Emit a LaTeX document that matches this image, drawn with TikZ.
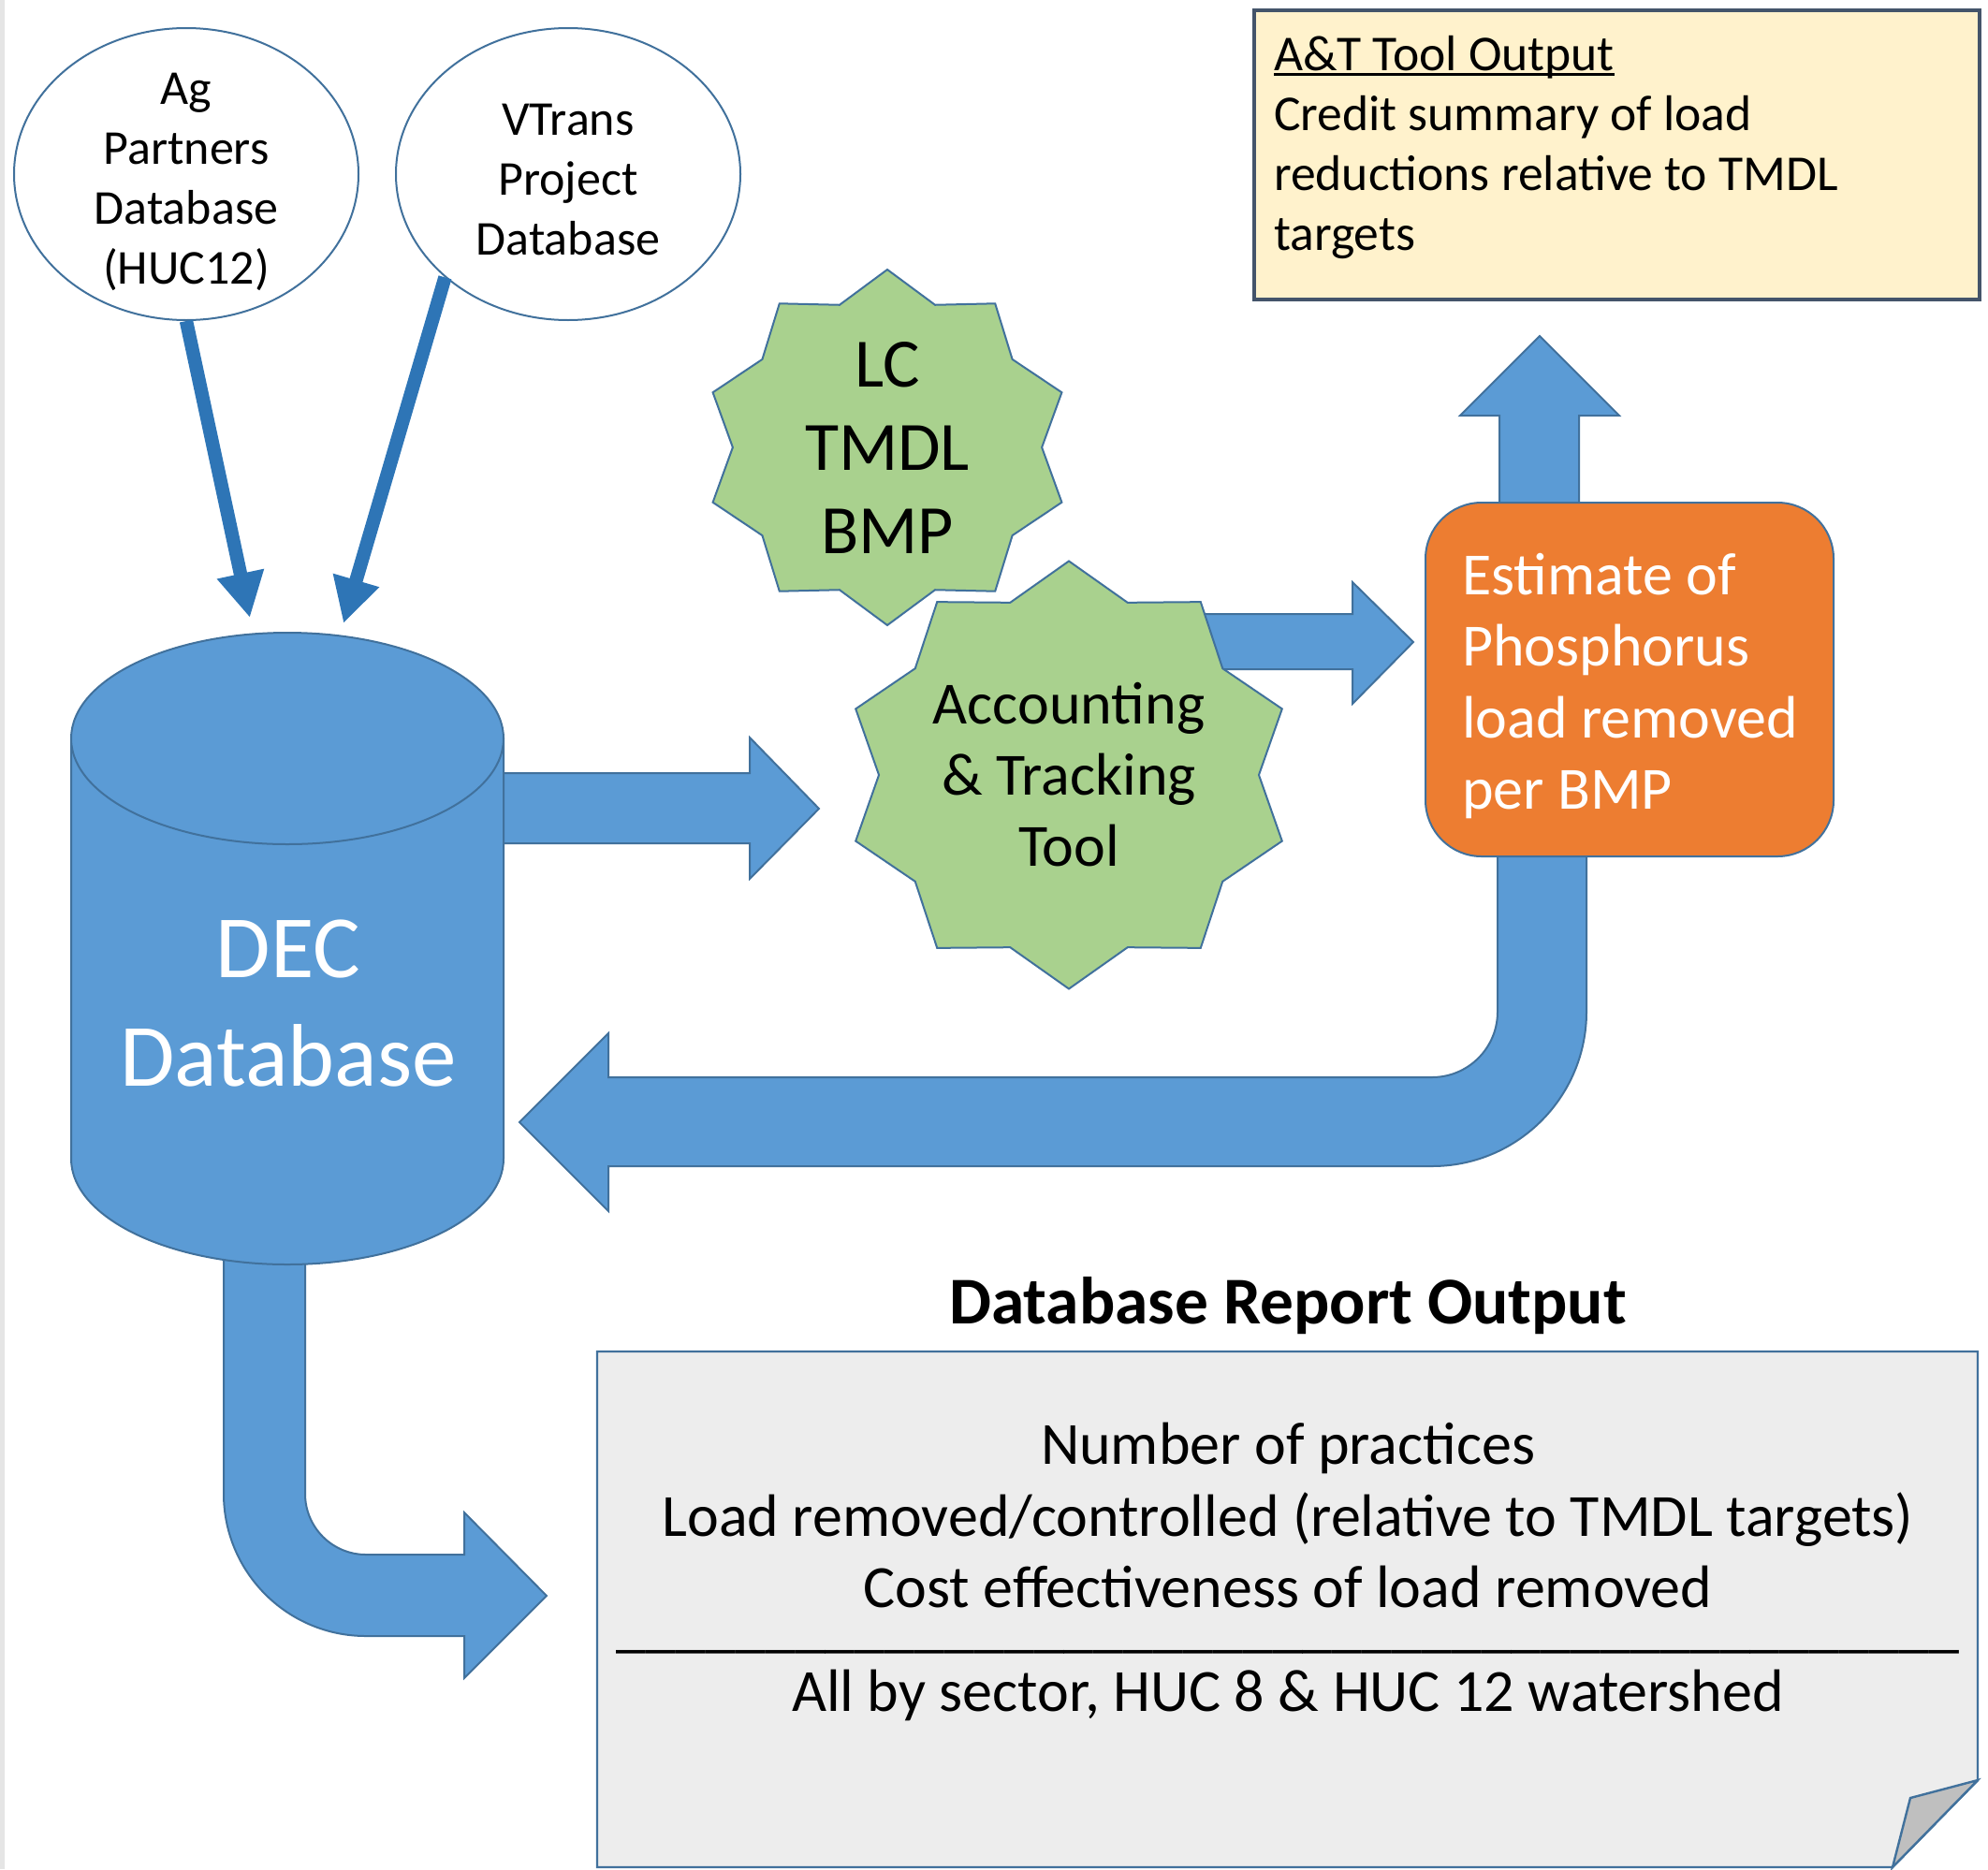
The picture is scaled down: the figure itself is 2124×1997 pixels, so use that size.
\documentclass[tikz,border=0pt]{standalone}
\usepackage{fontspec}
\setmainfont{Carlito}
\usepackage{tikz}
\usetikzlibrary{arrows.meta,shapes,positioning}
\definecolor{dbblue}{RGB}{91,155,213}
\definecolor{dbedge}{RGB}{65,113,156}
\definecolor{srcblue}{RGB}{46,117,182}
\definecolor{bmpgreen}{RGB}{169,209,142}
\definecolor{estorange}{RGB}{237,125,49}
\definecolor{outyellow}{RGB}{255,242,204}
\definecolor{outedge}{RGB}{68,84,106}
\definecolor{rptgray}{RGB}{237,237,237}
\definecolor{foldgray}{RGB}{191,191,191}
\newsavebox\headbox
\newcommand{\ulhead}[1]{\sbox\headbox{#1}\rlap{\rule[-3pt]{\wd\headbox}{1.4pt}}\usebox\headbox}
\tikzstyle{dbsource} = [ellipse, draw=dbedge, fill=white, line width=1pt, minimum width=184pt, minimum height=156pt]
\tikzstyle{srctext} = [align=center, font=\fontsize{26}{32}\selectfont]
\tikzstyle{bmpstar} = [draw=dbedge, fill=bmpgreen, line width=1pt, line join=miter]
\tikzstyle{blockarrow} = [fill=dbblue, draw=dbedge, line width=1pt]
\tikzstyle{srcarrow} = [line width=7.2pt, draw=srcblue, ->, >={Triangle[width=24pt,length=24pt]}]
\tikzstyle{bodytext} = [align=center, inner sep=0pt, font=\fontsize{32}{38.3}\selectfont]

\begin{document}
\begin{tikzpicture}[x=0.5pt, y=-0.5pt]
\useasboundingbox (0,0) rectangle (2124,1997);
\fill[gray!20] (0,0) rectangle (5,1997);
% Block arrows
\draw[blockarrow] (530,826) -- (801,826) -- (801,788) -- (875,864) -- (801,939) -- (801,901) -- (530,901) -- cycle;
\draw[blockarrow] (1200,656) -- (1445,656) -- (1445,622) -- (1510,686) -- (1445,752) -- (1445,715) -- (1200,715) -- cycle;
\draw[blockarrow] (1602,560) -- (1602,444) -- (1560,444) -- (1645,359) -- (1730,444) -- (1687,444) -- (1687,560) -- cycle;
\draw[blockarrow] (1600,900) -- (1600,1081) arc[start angle=0, end angle=90, radius=70] -- (650,1151) -- (650,1104) -- (555,1199) -- (650,1294) -- (650,1246) -- (1530,1246) arc[start angle=90, end angle=0, radius=165] -- (1695,900) -- cycle;
\draw[blockarrow] (239,1320) -- (239,1596) arc[start angle=180, end angle=90, radius=152] -- (496,1748) -- (496,1793) -- (584,1705) -- (496,1616) -- (496,1661) -- (391,1661) arc[start angle=90, end angle=180, radius=65] -- (326,1320) -- cycle;
% DEC database
\draw[blockarrow] (76,789) -- (76,1238) arc[start angle=180, end angle=0, x radius=231, y radius=113] -- (538,789) -- cycle;
\draw[blockarrow] (307,789) ellipse [x radius=231, y radius=113];
\node (dec) [align=center, text=white, font=\fontsize{47.5}{58}\selectfont] at (308,1072) {DEC\\Database};
% Sources
\node (ag) [dbsource] at (199,186) {};
\node [srctext] at (199,194) {Ag\\Partners\\Database\\(HUC12)};
\node (vt) [dbsource] at (607,186) {};
\node [srctext] at (607,192) {VTrans\\Project\\Database};
\coordinate (agtip) at (267,660);
\coordinate (vttip) at (367,666);
\draw[srcarrow] (ag.south) -- (agtip);
\draw[srcarrow] (vt.220) -- (vttip);
% Tool
\draw[bmpstar, shift={(948,478)}] (90:196 and 190) \foreach \i in {1,...,19} {-- ({90+18*\i}:{196/(1+0.187*mod(\i,2))} and {190/(1+0.187*mod(\i,2))})} -- cycle;
\node (lc) [align=center, font=\fontsize{37}{44.5}\selectfont] at (948,478) {LC\\TMDL\\BMP};
\draw[bmpstar, shift={(1142,828)}] (90:239.5 and 228.5) \foreach \i in {1,...,19} {-- ({90+18*\i}:{239.5/(1+0.18*mod(\i,2))} and {228.5/(1+0.18*mod(\i,2))})} -- cycle;
\node (acc) [align=center, font=\fontsize{32}{38}\selectfont] at (1142,828) {Accounting\\\& Tracking\\Tool};
\node (est) [rectangle, rounded corners=30pt, draw=dbedge, fill=estorange, line width=1pt, minimum width=218pt, minimum height=189pt] at (1741,726) {};
\node [anchor=west, align=left, text=white, font=\fontsize{32}{38.3}\selectfont] at (1555,733) {Estimate of\\Phosphorus\\load removed\\per BMP};
% Outputs
\node (at) [rectangle, draw=outedge, fill=outyellow, line width=1.6pt, minimum width=387.5pt, minimum height=154.5pt] at (1727.5,165.5) {};
\node [anchor=west, align=left, font=\fontsize{26.8}{32}\selectfont] at (1354,157) {\ulhead{A\&T Tool Output}\\Credit summary of load\\reductions relative to TMDL\\targets};
\draw[draw=dbedge, fill=rptgray, line width=1.2pt] (638,1444) -- (2113,1444) -- (2113,1902) -- (2022,1995) -- (638,1995) -- cycle;
\draw[draw=dbedge, fill=foldgray, line width=1.2pt] (2113,1902) -- (2041,1921) -- (2022,1995) -- cycle;
\node (rpttitle) [font=\bfseries\fontsize{35.7}{42}\selectfont] at (1376,1395) {Database Report Output};
\node (rptlines) [bodytext] at (1376,1619) {Number of practices\\Load removed/controlled (relative to TMDL targets)\\Cost effectiveness of load removed};
\node (rptsep) [bodytext] at (1376,1763) {\_\_\_\_\_\_\_\_\_\_\_\_\_\_\_\_\_\_\_\_\_\_\_\_\_\_\_\_\_\_\_\_\_\_\_\_\_\_\_\_\_\_\_\_\_};
\node (rptall) [bodytext] at (1376,1811) {All by sector, HUC 8 \& HUC 12 watershed};
\end{tikzpicture}
\end{document}
